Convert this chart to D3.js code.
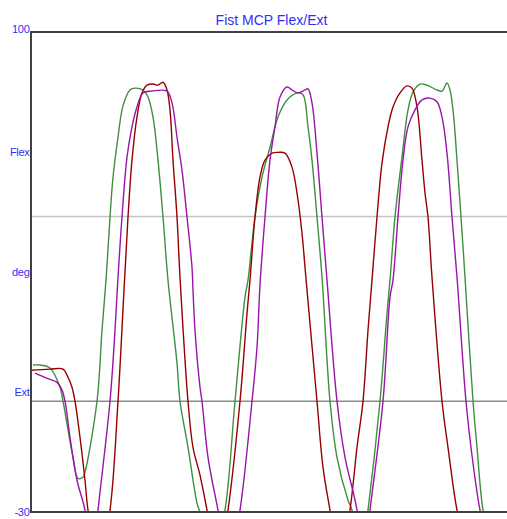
<!DOCTYPE html>
<html>
<head>
<meta charset="utf-8">
<script src="https://cdn.jsdelivr.net/npm/d3@7"></script>
<style>
  body { margin: 0; background: #fff; }
  svg { display: block; font-family: Arial, "Liberation Sans", sans-serif; }
</style>
</head>
<body>
<div id="chart-area"></div>
<script>
    // samples: [frame, degrees]
    var green = [[2,9.8],[9,9.8],[19,9.0],[29,3.8],[32,0],[42,-15.2],[47,-20.9],[52,-20.6],[54,-19.2],[66,0],[71,19.2],[75,32.8],[79,49.9],[82,60.6],[87,71.5],[92,80.0],[99,84.3],[104,84.8],[112,84.3],[117,82.4],[122,77.0],[127,65.3],[132,49.9],[137,32.8],[146,10.3],[149,0],[157,-12.5],[166,-27.6],[169,-30.1],[181,-45],[194,-29.5],[204,0],[214,28.2],[217,32.8],[224,49.9],[231,60.7],[239,68.8],[247,77.0],[256,81.6],[267,83.5],[272,83.0],[277,74.3],[281,65.3],[286,49.9],[291,33.6],[299,0],[306,-15.2],[317,-26.8],[321,-29.5],[329,-45],[337,-29.5],[349,0],[356,23.8],[359,32.8],[364,49.9],[371,66.1],[377,78.9],[382,83.7],[389,85.9],[396,85.6],[406,84.3],[411,84.0],[416,86.2],[419,84.3],[422,78.9],[426,65.3],[430,49.9],[434,33.6],[442,0],[446,-12.5],[452,-29.5],[464,-45],[476,-50]];

    var red = [[0,8.4],[19,8.7],[32,8.7],[37,6.5],[41,3.8],[44,0],[49,-9.8],[54,-21.4],[57,-29.5],[68,-45],[79,-29.5],[87,0],[93,30.1],[97,49.9],[101,65.3],[106,77.0],[111,83.5],[116,85.6],[122,85.9],[127,85.6],[132,86.4],[136,84.3],[139,78.9],[142,65.3],[146,49.9],[149,33.6],[157,0],[162,-12.5],[169,-20],[176,-29.5],[187,-45],[197,-29.5],[209,0],[216,23.8],[219,32.8],[224,49.9],[229,60.7],[234,65.3],[241,67.2],[247,67.4],[254,67.2],[261,63.4],[266,56.4],[271,45.5],[274,36.3],[276,30.1],[286,0],[292,-17.9],[299,-29.5],[309,-45],[319,-29.5],[326,-12.5],[332,0],[337,19.2],[341,32.8],[346,49.9],[351,64.5],[357,74.3],[362,79.7],[369,83.5],[376,85.4],[381,84.8],[386,79.7],[391,65.3],[394,56.4],[397,49.9],[401,33.6],[411,0],[417,-12.5],[426,-29.5],[439,-45],[476,-50]];

    var purple = [[4,7.6],[16,6.2],[26,5.1],[31,3.0],[34,0],[39,-9.8],[46,-21.4],[54,-29.5],[61,-45],[67,-29.5],[79,0],[84,19.2],[87,33.6],[91,49.9],[96,66.1],[101,74.3],[106,79.7],[112,83.5],[121,84.0],[136,84.0],[141,80.8],[146,71.5],[151,62.6],[156,49.9],[161,36.3],[162,30.1],[164,19.2],[169,3.8],[171,0],[177,-15.2],[187,-29.5],[198,-45],[209,-29.5],[221,0],[226,14.6],[229,31.5],[234,49.9],[239,65.3],[244,74.3],[249,82.4],[256,85.1],[261,84.3],[267,83.5],[274,84.3],[277,84.6],[281,80.8],[286,67.2],[291,49.9],[296,32.8],[306,0],[314,-15.2],[326,-29.5],[332,-45],[339,-29.5],[352,0],[359,28.2],[362,32.8],[367,49.9],[372,65.3],[377,74.3],[384,78.9],[391,81.6],[399,82.1],[406,81.1],[411,77.0],[416,67.2],[421,49.9],[426,33.6],[435,0],[442,-16.8],[449,-29.5],[462,-45],[476,-50]];

    var refLines = [50, 0];
    var yLabels = ['100', 'Flex', 'deg', 'Ext', '-30'];
    var yLabelVals = [100, 67.5, 35, 2.5, -30];

    var margin = { left:31, right:0, top:32, bottom:7 };
    var width = 507 - margin.left - margin.right;
    var height = 519 - margin.top - margin.bottom;

    var svg = d3.select('#chart-area')
        .append('svg')
        .attr('width', 507)
        .attr('height', 519);

    svg.append('text')
        .attr('x', 271.5)
        .attr('y', 24.5)
        .attr('text-anchor', 'middle')
        .attr('font-size', '14px')
        .attr('fill', '#3030f0')
        .text('Fist MCP Flex/Ext');

    const g = svg.append('g').attr('transform', `translate(${margin.left},${margin.top})`);

    var xScale = d3.scaleLinear().domain([0, 476]).range([0, width]);
    var yScale = d3.scaleLinear().domain([-30, 100]).range([height, 0]);

    g.append('clipPath').attr('id', 'plot-clip')
        .append('rect').attr('x', 0).attr('y', 0).attr('width', width).attr('height', height);

    // reference lines
    g.selectAll('.ref').data(refLines).enter()
        .append('line')
        .attr('class', 'ref')
        .attr('x1', 0).attr('x2', width)
        .attr('y1', (d) => yScale(d)).attr('y2', (d) => yScale(d))
        .attr('stroke', (d) => d === 0 ? '#8c8c8c' : '#c4c4c4')
        .attr('stroke-width', 1.5);

    var line = d3.line()
        .x((d) => xScale(d[0]))
        .y((d) => yScale(d[1]))
        .curve(d3.curveCatmullRom.alpha(0.5));

    var series = [
        { data: green, color: '#3f8f3f' },
        { data: red, color: '#960000' },
        { data: purple, color: '#9a14a8' }
    ];

    g.append('g').attr('clip-path', 'url(#plot-clip)')
        .selectAll('path').data(series).enter()
        .append('path')
        .attr('d', (d) => line(d.data))
        .attr('fill', 'none')
        .attr('stroke', (d) => d.color)
        .attr('stroke-width', 1.4);

    // frame: left, top, bottom
    g.append('path')
        .attr('d', `M${width + 2},0H0V${height}H${width + 2}`)
        .attr('fill', 'none')
        .attr('stroke', '#404040')
        .attr('stroke-width', 2);

    g.selectAll('.ylab').data(yLabels).enter()
        .append('text')
        .attr('class', 'ylab')
        .attr('x', -1.5)
        .attr('y', (d, i) => yScale(yLabelVals[i]) + (i === 0 ? -3 : 0))
        .attr('dy', '0.35em')
        .attr('text-anchor', 'end')
        .attr('font-size', '11px')
        .attr('fill', '#3030f0')
        .attr('letter-spacing', '-0.3px')
        .text((d) => d);
</script>
</body>
</html>
